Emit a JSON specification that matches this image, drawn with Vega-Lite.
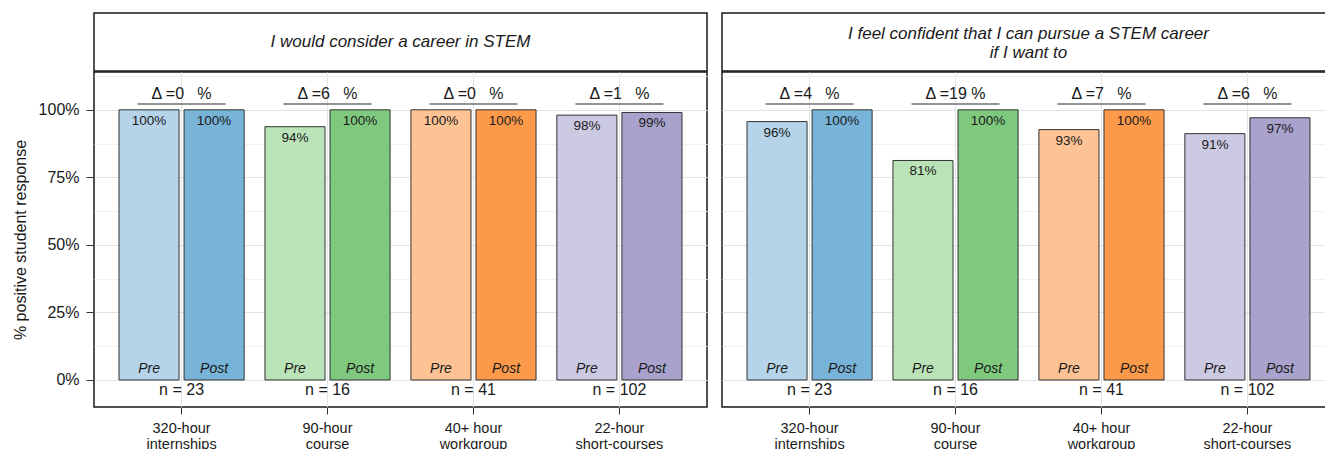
{
  "$schema": "https://vega.github.io/schema/vega-lite/v6.json",
  "padding": {"left": 11, "top": 12, "right": 0, "bottom": 0},
  "config": {
    "font": "Liberation Sans",
    "text": {"color": "#1a1a1a"},
    "axisY": {
      "titleFontSize": 16, "titleFontWeight": "normal", "titleColor": "#1a1a1a", "titlePadding": 10,
      "labelFontSize": 16, "labelColor": "#1a1a1a", "labelPadding": 7,
      "domain": false, "tickSize": 8, "tickColor": "#333333"
    }
  },
  "datasets": {
    "bars": [
      {"panel": "A", "program": "320-hour internships", "phase": "Pre", "key": "320 Pre", "value": 1.0},
      {"panel": "A", "program": "320-hour internships", "phase": "Post", "key": "320 Post", "value": 1.0},
      {"panel": "A", "program": "90-hour course", "phase": "Pre", "key": "90 Pre", "value": 0.9375},
      {"panel": "A", "program": "90-hour course", "phase": "Post", "key": "90 Post", "value": 1.0},
      {"panel": "A", "program": "40+ hour workgroup", "phase": "Pre", "key": "40 Pre", "value": 1.0},
      {"panel": "A", "program": "40+ hour workgroup", "phase": "Post", "key": "40 Post", "value": 1.0},
      {"panel": "A", "program": "22-hour short-courses", "phase": "Pre", "key": "22 Pre", "value": 0.9804},
      {"panel": "A", "program": "22-hour short-courses", "phase": "Post", "key": "22 Post", "value": 0.9902},
      {"panel": "B", "program": "320-hour internships", "phase": "Pre", "key": "320 Pre", "value": 0.9565},
      {"panel": "B", "program": "320-hour internships", "phase": "Post", "key": "320 Post", "value": 1.0},
      {"panel": "B", "program": "90-hour course", "phase": "Pre", "key": "90 Pre", "value": 0.8125},
      {"panel": "B", "program": "90-hour course", "phase": "Post", "key": "90 Post", "value": 1.0},
      {"panel": "B", "program": "40+ hour workgroup", "phase": "Pre", "key": "40 Pre", "value": 0.9268},
      {"panel": "B", "program": "40+ hour workgroup", "phase": "Post", "key": "40 Post", "value": 1.0},
      {"panel": "B", "program": "22-hour short-courses", "phase": "Pre", "key": "22 Pre", "value": 0.9118},
      {"panel": "B", "program": "22-hour short-courses", "phase": "Post", "key": "22 Post", "value": 0.9706}
    ],
    "groups": [
      {"panel": "A", "program": "320-hour internships", "nlabel": "n = 23", "delta": "Δ =0\u00a0\u00a0\u00a0%"},
      {"panel": "A", "program": "90-hour course", "nlabel": "n = 16", "delta": "Δ =6\u00a0\u00a0\u00a0%"},
      {"panel": "A", "program": "40+ hour workgroup", "nlabel": "n = 41", "delta": "Δ =0\u00a0\u00a0\u00a0%"},
      {"panel": "A", "program": "22-hour short-courses", "nlabel": "n = 102", "delta": "Δ =1\u00a0\u00a0\u00a0%"},
      {"panel": "B", "program": "320-hour internships", "nlabel": "n = 23", "delta": "Δ =4\u00a0\u00a0\u00a0%"},
      {"panel": "B", "program": "90-hour course", "nlabel": "n = 16", "delta": "Δ =19\u00a0%"},
      {"panel": "B", "program": "40+ hour workgroup", "nlabel": "n = 41", "delta": "Δ =7\u00a0\u00a0\u00a0%"},
      {"panel": "B", "program": "22-hour short-courses", "nlabel": "n = 102", "delta": "Δ =6\u00a0\u00a0\u00a0%"}
    ],
    "stripA": [{"t": "I would consider a career in STEM"}],
    "stripB": [{"t": "I feel confident that I can pursue a STEM career\nif I want to"}]
  },
  "spacing": 13,
  "hconcat": [
    {
      "spacing": 1,
      "bounds": "flush",
      "vconcat": [
        {
          "width": 613, "height": 58,
          "view": {"stroke": "#1a1a1a", "strokeWidth": 1.5},
          "data": {"name": "stripA"},
          "mark": {"type": "text", "fontStyle": "italic", "fontSize": 17, "baseline": "middle", "align": "center", "lineBreak": "\n", "lineHeight": 19},
          "encoding": {
            "x": {"datum": 0.5, "type": "quantitative", "scale": {"domain": [0, 1]}, "axis": null},
            "y": {"datum": 0.5, "type": "quantitative", "scale": {"domain": [0, 1]}, "axis": null},
            "text": {"field": "t"}
          }
        },
        {
          "width": 613, "height": 335,
          "view": {"stroke": "#1a1a1a", "strokeWidth": 1.5},
          "encoding": {
            "x": {
              "field": "program", "type": "nominal",
              "sort": ["320-hour internships", "90-hour course", "40+ hour workgroup", "22-hour short-courses"],
              "scale": {"paddingInner": 0, "paddingOuter": 0.1},
              "axis": {
                "title": null, "labelAngle": 0, "domain": false, "grid": true, "gridColor": "#e4e4e4",
                "tickSize": 7, "tickColor": "#333333", "labelFontSize": 14.5, "labelLineHeight": 16, "labelPadding": 7, "labelColor": "#1a1a1a",
                "labelExpr": "datum.label == '40+ hour workgroup' ? ['40+ hour', 'workgroup'] : split(datum.label, ' ')"
              }
            }
          },
          "layer": [
            {
              "data": {"name": "bars"},
              "transform": [{"filter": "datum.panel == 'A'"}],
              "mark": {"type": "bar", "stroke": "#333333", "strokeWidth": 1},
              "encoding": {
                "xOffset": {"field": "phase", "type": "nominal", "sort": ["Pre", "Post"], "scale": {"paddingInner": 0.077, "paddingOuter": 0.16}},
                "y": {
                  "field": "value", "type": "quantitative",
                  "scale": {"domain": [-0.1, 1.14], "nice": false, "zero": false},
                  "axis": {
                    "title": "% positive student response",
                    "values": [0, 0.125, 0.25, 0.375, 0.5, 0.625, 0.75, 0.875, 1, 1.125],
                    "format": ".0%",
                    "labelExpr": "(datum.value * 4 == round(datum.value * 4)) && datum.value <= 1 ? datum.label : ''",
                    "tickOpacity": {"condition": {"test": "datum.value * 4 == round(datum.value * 4)", "value": 1}, "value": 0},
                    "grid": true,
                    "gridColor": {"condition": {"test": "datum.value * 4 == round(datum.value * 4)", "value": "#e2e2e2"}, "value": "#f0f0f0"}
                  }
                },
                "color": {
                  "field": "key", "type": "nominal", "legend": null,
                  "scale": {
                    "domain": ["320 Pre", "320 Post", "90 Pre", "90 Post", "40 Pre", "40 Post", "22 Pre", "22 Post"],
                    "range": ["#b5d4e9", "#78b3d8", "#bae4b8", "#7fc97f", "#fdc395", "#fd9a4a", "#cccae2", "#a9a2cc"]
                  }
                }
              }
            },
            {
              "data": {"name": "bars"},
              "transform": [{"filter": "datum.panel == 'A'"}],
              "mark": {"type": "text", "baseline": "top", "dy": 4, "fontSize": 13.5},
              "encoding": {
                "xOffset": {"field": "phase", "type": "nominal", "sort": ["Pre", "Post"], "scale": {"paddingInner": 0.077, "paddingOuter": 0.16}},
                "y": {"field": "value", "type": "quantitative", "scale": {"domain": [-0.1, 1.14], "nice": false, "zero": false},
                  "axis": {
                    "title": "% positive student response",
                    "values": [0, 0.125, 0.25, 0.375, 0.5, 0.625, 0.75, 0.875, 1, 1.125],
                    "format": ".0%",
                    "labelExpr": "(datum.value * 4 == round(datum.value * 4)) && datum.value <= 1 ? datum.label : ''",
                    "tickOpacity": {"condition": {"test": "datum.value * 4 == round(datum.value * 4)", "value": 1}, "value": 0},
                    "grid": true,
                    "gridColor": {"condition": {"test": "datum.value * 4 == round(datum.value * 4)", "value": "#e2e2e2"}, "value": "#f0f0f0"}
                  }},
                "text": {"field": "value", "type": "quantitative", "format": ".0%"}
              }
            },
            {
              "data": {"name": "bars"},
              "transform": [{"filter": "datum.panel == 'A'"}],
              "mark": {"type": "text", "baseline": "bottom", "dy": -4, "fontSize": 14, "fontStyle": "italic"},
              "encoding": {
                "xOffset": {"field": "phase", "type": "nominal", "sort": ["Pre", "Post"], "scale": {"paddingInner": 0.077, "paddingOuter": 0.16}},
                "y": {"datum": 0, "type": "quantitative", "scale": {"domain": [-0.1, 1.14], "nice": false, "zero": false},
                  "axis": {
                    "title": "% positive student response",
                    "values": [0, 0.125, 0.25, 0.375, 0.5, 0.625, 0.75, 0.875, 1, 1.125],
                    "format": ".0%",
                    "labelExpr": "(datum.value * 4 == round(datum.value * 4)) && datum.value <= 1 ? datum.label : ''",
                    "tickOpacity": {"condition": {"test": "datum.value * 4 == round(datum.value * 4)", "value": 1}, "value": 0},
                    "grid": true,
                    "gridColor": {"condition": {"test": "datum.value * 4 == round(datum.value * 4)", "value": "#e2e2e2"}, "value": "#f0f0f0"}
                  }},
                "text": {"field": "phase"}
              }
            },
            {
              "data": {"name": "groups"},
              "transform": [{"filter": "datum.panel == 'A'"}],
              "mark": {"type": "text", "baseline": "top", "dy": 2, "fontSize": 16},
              "encoding": {
                "y": {"datum": 0, "type": "quantitative", "scale": {"domain": [-0.1, 1.14], "nice": false, "zero": false},
                  "axis": {
                    "title": "% positive student response",
                    "values": [0, 0.125, 0.25, 0.375, 0.5, 0.625, 0.75, 0.875, 1, 1.125],
                    "format": ".0%",
                    "labelExpr": "(datum.value * 4 == round(datum.value * 4)) && datum.value <= 1 ? datum.label : ''",
                    "tickOpacity": {"condition": {"test": "datum.value * 4 == round(datum.value * 4)", "value": 1}, "value": 0},
                    "grid": true,
                    "gridColor": {"condition": {"test": "datum.value * 4 == round(datum.value * 4)", "value": "#e2e2e2"}, "value": "#f0f0f0"}
                  }},
                "text": {"field": "nlabel"}
              }
            },
            {
              "data": {"name": "groups"},
              "transform": [{"filter": "datum.panel == 'A'"}],
              "mark": {"type": "text", "baseline": "middle", "fontSize": 16},
              "encoding": {
                "y": {"datum": 1.06, "type": "quantitative", "scale": {"domain": [-0.1, 1.14], "nice": false, "zero": false},
                  "axis": {
                    "title": "% positive student response",
                    "values": [0, 0.125, 0.25, 0.375, 0.5, 0.625, 0.75, 0.875, 1, 1.125],
                    "format": ".0%",
                    "labelExpr": "(datum.value * 4 == round(datum.value * 4)) && datum.value <= 1 ? datum.label : ''",
                    "tickOpacity": {"condition": {"test": "datum.value * 4 == round(datum.value * 4)", "value": 1}, "value": 0},
                    "grid": true,
                    "gridColor": {"condition": {"test": "datum.value * 4 == round(datum.value * 4)", "value": "#e2e2e2"}, "value": "#f0f0f0"}
                  }},
                "text": {"field": "delta"}
              }
            },
            {
              "data": {"name": "groups"},
              "transform": [{"filter": "datum.panel == 'A'"}],
              "mark": {"type": "tick", "orient": "horizontal", "size": 88, "thickness": 1.5, "color": "#333333"},
              "encoding": {
                "y": {"datum": 1.022, "type": "quantitative", "scale": {"domain": [-0.1, 1.14], "nice": false, "zero": false},
                  "axis": {
                    "title": "% positive student response",
                    "values": [0, 0.125, 0.25, 0.375, 0.5, 0.625, 0.75, 0.875, 1, 1.125],
                    "format": ".0%",
                    "labelExpr": "(datum.value * 4 == round(datum.value * 4)) && datum.value <= 1 ? datum.label : ''",
                    "tickOpacity": {"condition": {"test": "datum.value * 4 == round(datum.value * 4)", "value": 1}, "value": 0},
                    "grid": true,
                    "gridColor": {"condition": {"test": "datum.value * 4 == round(datum.value * 4)", "value": "#e2e2e2"}, "value": "#f0f0f0"}
                  }}
              }
            }
          ]
        }
      ]
    },
    {
      "spacing": 1,
      "bounds": "flush",
      "vconcat": [
        {
          "width": 613, "height": 58,
          "view": {"stroke": "#1a1a1a", "strokeWidth": 1.5},
          "data": {"name": "stripB"},
          "mark": {"type": "text", "fontStyle": "italic", "fontSize": 17, "baseline": "middle", "align": "center", "lineBreak": "\n", "lineHeight": 19, "dy": -8},
          "encoding": {
            "x": {"datum": 0.5, "type": "quantitative", "scale": {"domain": [0, 1]}, "axis": null},
            "y": {"datum": 0.5, "type": "quantitative", "scale": {"domain": [0, 1]}, "axis": null},
            "text": {"field": "t"}
          }
        },
        {
          "width": 613, "height": 335,
          "view": {"stroke": "#1a1a1a", "strokeWidth": 1.5},
          "encoding": {
            "x": {
              "field": "program", "type": "nominal",
              "sort": ["320-hour internships", "90-hour course", "40+ hour workgroup", "22-hour short-courses"],
              "scale": {"paddingInner": 0, "paddingOuter": 0.1},
              "axis": {
                "title": null, "labelAngle": 0, "domain": false, "grid": true, "gridColor": "#e4e4e4",
                "tickSize": 7, "tickColor": "#333333", "labelFontSize": 14.5, "labelLineHeight": 16, "labelPadding": 7, "labelColor": "#1a1a1a",
                "labelExpr": "datum.label == '40+ hour workgroup' ? ['40+ hour', 'workgroup'] : split(datum.label, ' ')"
              }
            }
          },
          "layer": [
            {
              "data": {"name": "bars"},
              "transform": [{"filter": "datum.panel == 'B'"}],
              "mark": {"type": "bar", "stroke": "#333333", "strokeWidth": 1},
              "encoding": {
                "xOffset": {"field": "phase", "type": "nominal", "sort": ["Pre", "Post"], "scale": {"paddingInner": 0.077, "paddingOuter": 0.16}},
                "y": {
                  "field": "value", "type": "quantitative",
                  "scale": {"domain": [-0.1, 1.14], "nice": false, "zero": false},
                  "axis": {"title": null, "labels": false, "ticks": false, "values": [0, 0.125, 0.25, 0.375, 0.5, 0.625, 0.75, 0.875, 1, 1.125], "grid": true,
                    "gridColor": {"condition": {"test": "datum.value * 4 == round(datum.value * 4)", "value": "#e2e2e2"}, "value": "#f0f0f0"}}
                },
                "color": {
                  "field": "key", "type": "nominal", "legend": null,
                  "scale": {
                    "domain": ["320 Pre", "320 Post", "90 Pre", "90 Post", "40 Pre", "40 Post", "22 Pre", "22 Post"],
                    "range": ["#b5d4e9", "#78b3d8", "#bae4b8", "#7fc97f", "#fdc395", "#fd9a4a", "#cccae2", "#a9a2cc"]
                  }
                }
              }
            },
            {
              "data": {"name": "bars"},
              "transform": [{"filter": "datum.panel == 'B'"}],
              "mark": {"type": "text", "baseline": "top", "dy": 4, "fontSize": 13.5},
              "encoding": {
                "xOffset": {"field": "phase", "type": "nominal", "sort": ["Pre", "Post"], "scale": {"paddingInner": 0.077, "paddingOuter": 0.16}},
                "y": {"field": "value", "type": "quantitative", "scale": {"domain": [-0.1, 1.14], "nice": false, "zero": false},
                  "axis": {"title": null, "labels": false, "ticks": false, "values": [0, 0.125, 0.25, 0.375, 0.5, 0.625, 0.75, 0.875, 1, 1.125], "grid": true,
                    "gridColor": {"condition": {"test": "datum.value * 4 == round(datum.value * 4)", "value": "#e2e2e2"}, "value": "#f0f0f0"}}},
                "text": {"field": "value", "type": "quantitative", "format": ".0%"}
              }
            },
            {
              "data": {"name": "bars"},
              "transform": [{"filter": "datum.panel == 'B'"}],
              "mark": {"type": "text", "baseline": "bottom", "dy": -4, "fontSize": 14, "fontStyle": "italic"},
              "encoding": {
                "xOffset": {"field": "phase", "type": "nominal", "sort": ["Pre", "Post"], "scale": {"paddingInner": 0.077, "paddingOuter": 0.16}},
                "y": {"datum": 0, "type": "quantitative", "scale": {"domain": [-0.1, 1.14], "nice": false, "zero": false},
                  "axis": {"title": null, "labels": false, "ticks": false, "values": [0, 0.125, 0.25, 0.375, 0.5, 0.625, 0.75, 0.875, 1, 1.125], "grid": true,
                    "gridColor": {"condition": {"test": "datum.value * 4 == round(datum.value * 4)", "value": "#e2e2e2"}, "value": "#f0f0f0"}}},
                "text": {"field": "phase"}
              }
            },
            {
              "data": {"name": "groups"},
              "transform": [{"filter": "datum.panel == 'B'"}],
              "mark": {"type": "text", "baseline": "top", "dy": 2, "fontSize": 16},
              "encoding": {
                "y": {"datum": 0, "type": "quantitative", "scale": {"domain": [-0.1, 1.14], "nice": false, "zero": false},
                  "axis": {"title": null, "labels": false, "ticks": false, "values": [0, 0.125, 0.25, 0.375, 0.5, 0.625, 0.75, 0.875, 1, 1.125], "grid": true,
                    "gridColor": {"condition": {"test": "datum.value * 4 == round(datum.value * 4)", "value": "#e2e2e2"}, "value": "#f0f0f0"}}},
                "text": {"field": "nlabel"}
              }
            },
            {
              "data": {"name": "groups"},
              "transform": [{"filter": "datum.panel == 'B'"}],
              "mark": {"type": "text", "baseline": "middle", "fontSize": 16},
              "encoding": {
                "y": {"datum": 1.06, "type": "quantitative", "scale": {"domain": [-0.1, 1.14], "nice": false, "zero": false},
                  "axis": {"title": null, "labels": false, "ticks": false, "values": [0, 0.125, 0.25, 0.375, 0.5, 0.625, 0.75, 0.875, 1, 1.125], "grid": true,
                    "gridColor": {"condition": {"test": "datum.value * 4 == round(datum.value * 4)", "value": "#e2e2e2"}, "value": "#f0f0f0"}}},
                "text": {"field": "delta"}
              }
            },
            {
              "data": {"name": "groups"},
              "transform": [{"filter": "datum.panel == 'B'"}],
              "mark": {"type": "tick", "orient": "horizontal", "size": 88, "thickness": 1.5, "color": "#333333"},
              "encoding": {
                "y": {"datum": 1.022, "type": "quantitative", "scale": {"domain": [-0.1, 1.14], "nice": false, "zero": false},
                  "axis": {"title": null, "labels": false, "ticks": false, "values": [0, 0.125, 0.25, 0.375, 0.5, 0.625, 0.75, 0.875, 1, 1.125], "grid": true,
                    "gridColor": {"condition": {"test": "datum.value * 4 == round(datum.value * 4)", "value": "#e2e2e2"}, "value": "#f0f0f0"}}}
              }
            }
          ]
        }
      ]
    }
  ]
}
